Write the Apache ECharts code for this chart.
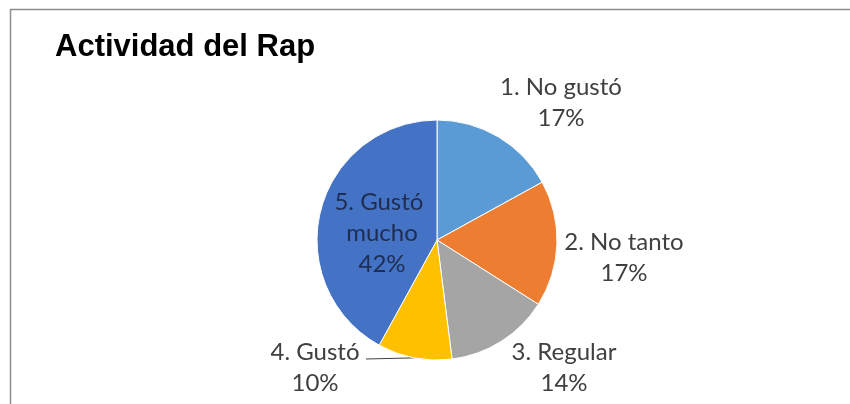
<!DOCTYPE html>
<html>
<head>
<meta charset="utf-8">
<script src="https://cdn.jsdelivr.net/npm/echarts@6/dist/echarts.min.js"></script>
<style>
html,body{margin:0;padding:0;background:#fff;}
#chart{width:850px;height:404px;}
</style>
</head>
<body>
<div id="chart"></div>
<script>
// Data
const categories = ['1. No gustó', '2. No tanto', '3. Regular', '4. Gustó', '5. Gustó mucho'];
const shares = [17, 17, 14, 10, 42];
const colors = ['#5B9BD5', '#ED7D31', '#A5A5A5', '#FFC000', '#4472C4'];
const titleText = 'Actividad del Rap';

// Layout (pixel geometry, kept separate from data)
const CX = 437, CY = 240, R = 120;
const labelOffsets = [[124, -137], [187, 18], [127, 128], [-122, 128], [-55, -7]];

const total = shares.reduce((a, b) => a + b, 0);

const chart = echarts.init(document.getElementById('chart'), null, {renderer: 'canvas'});

const data = categories.map((name, i) => {
  const item = {name: name, value: shares[i], itemStyle: {color: colors[i]}};
  if (i === 4) {
    item.label = {width: 110, overflow: 'break', color: '#1F2D52'};
  }
  if (i === 3) {
    item.labelLine = {show: true};
  }
  return item;
});

function midAngleOf(idx) {
  let before = 0;
  for (let k = 0; k < idx; k++) before += shares[k];
  return (before + shares[idx] / 2) / total * 2 * Math.PI;
}

chart.setOption({
  animation: false,
  backgroundColor: '#ffffff',
  title: {
    text: titleText,
    left: 55,
    top: 32,
    padding: 0,
    textStyle: {fontFamily: 'Liberation Sans', fontWeight: 'bold', fontSize: 31, color: '#000'}
  },
  graphic: [
    {type: 'line', shape: {x1: 10, y1: 9.5, x2: 850, y2: 9.5}, style: {stroke: '#8c8c8c', lineWidth: 1.5}},
    {type: 'line', shape: {x1: 10.5, y1: 9, x2: 10.5, y2: 404}, style: {stroke: '#8c8c8c', lineWidth: 1.5}}
  ],
  series: [{
    type: 'pie',
    center: [CX, CY],
    radius: R,
    startAngle: 90,
    clockwise: true,
    data: data,
    itemStyle: {borderColor: '#ffffff', borderWidth: 1},
    label: {
      show: true,
      position: 'outside',
      fontFamily: 'Lato',
      fontSize: 24,
      lineHeight: 31,
      color: '#404040',
      align: 'center',
      formatter: p => p.name + '\n' + Math.round(p.percent) + '%'
    },
    labelLine: {show: false, lineStyle: {color: '#404040', width: 1}, length: 10, length2: 10},
    labelLayout: function (params) {
      const i = params.dataIndex;
      const o = labelOffsets[i];
      const res = {x: CX + o[0], y: CY + o[1], align: 'center', verticalAlign: 'middle'};
      if (i === 3) {
        const a = midAngleOf(i);
        const ex = CX + R * Math.sin(a);
        const ey = CY - R * Math.cos(a);
        res.labelLinePoints = [[ex, ey], [CX - 71, CY + 119]];
      }
      return res;
    }
  }]
});
</script>
</body>
</html>
